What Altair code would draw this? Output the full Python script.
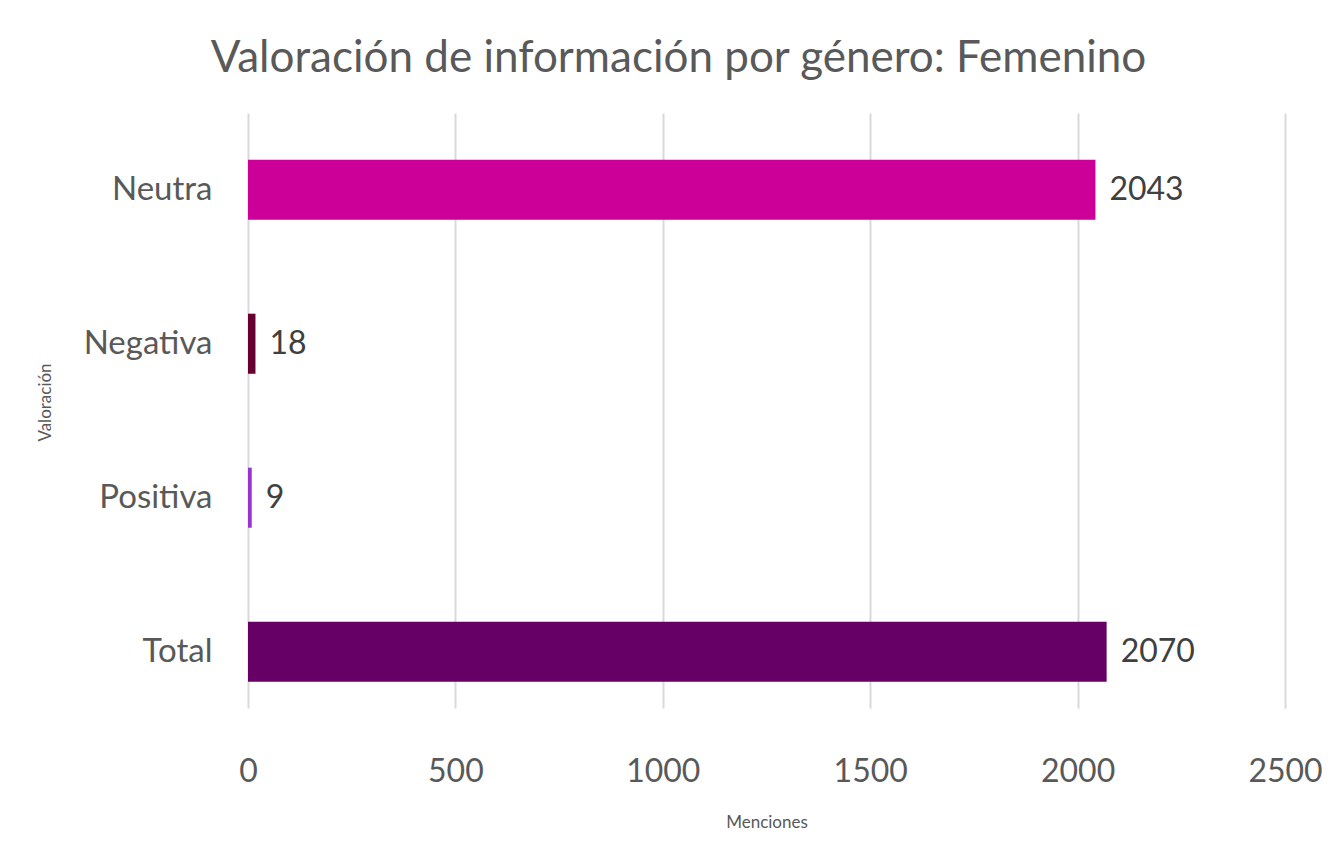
import altair as alt
import pandas as pd

categories = ["Neutra", "Negativa", "Positiva", "Total"]
values = [2043, 18, 9, 2070]
colors = ["#CC0099", "#660033", "#9933CC", "#660066"]

df = pd.DataFrame({"cat": categories, "val": values, "color": colors})

FONT = "Lato"

y_enc = alt.Y(
    "cat:N",
    sort=categories,
    scale=alt.Scale(paddingInner=0.61, paddingOuter=0.237, align=0.64),
    axis=alt.Axis(
        title="Valoración",
        titleFontSize=17,
        titleFontWeight="normal",
        titleColor="#595959",
        titleFont=FONT,
        titleAngle=-90,
        titleX=-203,
        titleY=289,
        titleAlign="center",
        titleBaseline="middle",
        labelFontSize=33,
        labelFont=FONT,
        labelColor="#595959",
        labelPadding=36,
        domain=False,
        ticks=False,
        grid=False,
    ),
)

x_enc = alt.X(
    "val:Q",
    scale=alt.Scale(domain=[0, 2500], nice=False),
    axis=alt.Axis(
        values=[0, 500, 1000, 1500, 2000, 2500],
        format="d",
        labelFlush=False,
        title="Menciones",
        titleFontSize=17,
        titleFontWeight="normal",
        titleColor="#595959",
        titleFont=FONT,
        titlePadding=27,
        labelFontSize=32,
        labelFont=FONT,
        labelColor="#595959",
        labelPadding=48,
        domain=False,
        ticks=False,
        grid=True,
        gridColor="#d9d9d9",
        gridWidth=2,
    ),
)

bars = alt.Chart(df).mark_bar().encode(
    y=y_enc,
    x=x_enc,
    color=alt.Color("color:N", scale=None),
)

labels = alt.Chart(df).mark_text(
    align="left", baseline="middle", dx=14, fontSize=32, font=FONT, color="#404040"
).encode(
    y=alt.Y("cat:N", sort=categories),
    x="val:Q",
    text="val:Q",
)

chart = (
    alt.layer(bars, labels)
    .properties(
        width=1037,
        height=595,
        background="white",
        title=alt.TitleParams(
            "Valoración de información por género: Femenino",
            fontSize=44,
            font=FONT,
            fontWeight="normal",
            color="#595959",
            anchor="middle",
            dx=-88,
            dy=41,
            baseline="alphabetic",
            offset=38,
        ),
        autosize=alt.AutoSizeParams(type="none"),
        padding={"left": 240, "top": 105, "right": 40, "bottom": 144},
    )
    .configure_view(strokeWidth=0, stroke="transparent")
)

chart.save("out.html", embed_options={"renderer": "svg", "actions": False})
